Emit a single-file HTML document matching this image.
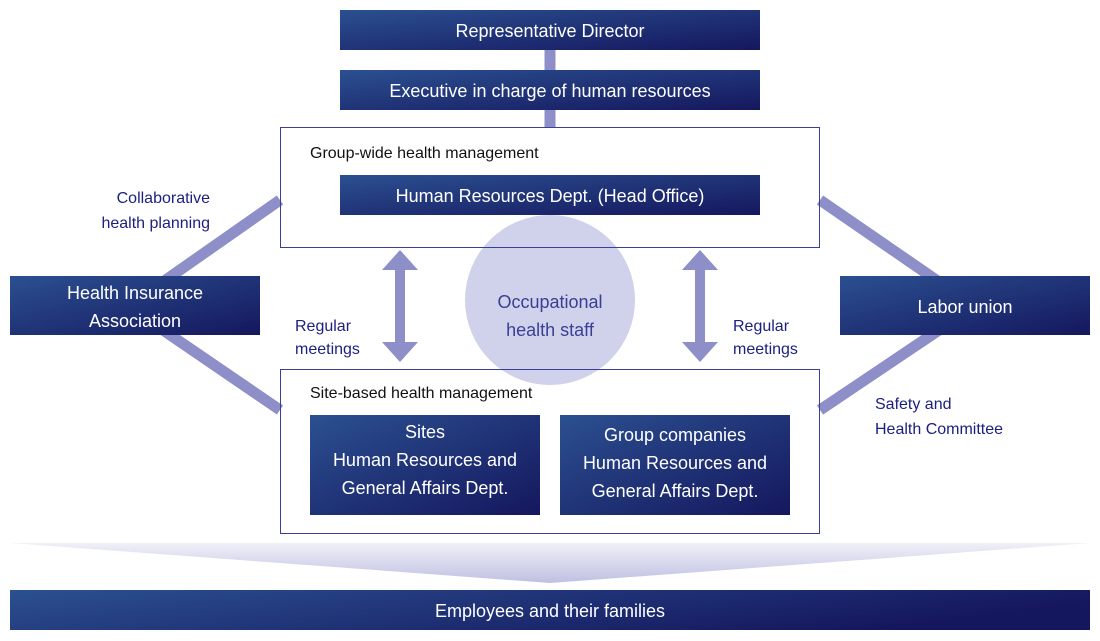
<!DOCTYPE html>
<html><head><meta charset="utf-8"><style>
html,body{margin:0;padding:0;background:#fff}
svg{display:block}
text{font-family:"Liberation Sans",sans-serif}
</style></head><body>
<svg width="1100" height="641" viewBox="0 0 1100 641" xmlns="http://www.w3.org/2000/svg">
<defs>
<linearGradient id="g" x1="0" y1="0" x2="1" y2="1">
<stop offset="0" stop-color="#2b5090"/><stop offset="1" stop-color="#15175e"/>
</linearGradient>
<linearGradient id="gw" x1="0" y1="0" x2="1" y2="0.3">
<stop offset="0" stop-color="#2b5090"/><stop offset="1" stop-color="#15175e"/>
</linearGradient>
<linearGradient id="f" x1="0" y1="0" x2="0" y2="1">
<stop offset="0" stop-color="#f0f0f8"/><stop offset="1" stop-color="#bfc0e2"/>
</linearGradient>
</defs>
<g stroke="#8e8fc8" stroke-width="11">
<line x1="550" y1="50" x2="550" y2="128"/>
<line x1="160" y1="284" x2="280" y2="200"/>
<line x1="160" y1="328" x2="280" y2="410"/>
<line x1="820" y1="200" x2="942" y2="284"/>
<line x1="820" y1="410" x2="942" y2="328"/>
</g>
<circle cx="550" cy="300" r="85" fill="#d0d1ea"/>
<g fill="#8e8fc8">
<polygon points="400,250 418,270 405,270 405,342 418,342 400,362 382,342 395,342 395,270 382,270"/>
<polygon points="700,250 718,270 705,270 705,342 718,342 700,362 682,342 695,342 695,270 682,270"/>
</g>
<rect x="280.5" y="127.5" width="539" height="120" fill="none" stroke="#3a3f95"/>
<rect x="280.5" y="369.5" width="539" height="164" fill="none" stroke="#3a3f95"/>
<g fill="url(#g)">
<rect x="340" y="10" width="420" height="40"/>
<rect x="340" y="70" width="420" height="40"/>
<rect x="340" y="175" width="420" height="40"/>
<rect x="10" y="276" width="250" height="59"/>
<rect x="840" y="276" width="250" height="59"/>
<rect x="310" y="415" width="230" height="100"/>
<rect x="560" y="415" width="230" height="100"/>
<rect x="10" y="590" width="1080" height="40" fill="url(#gw)"/>
</g>
<polygon points="10,543 1090,543 550,583" fill="url(#f)"/>
<g fill="#fff" font-size="18" text-anchor="middle">
<text x="550" y="37">Representative Director</text>
<text x="550" y="97">Executive in charge of human resources</text>
<text x="550" y="202">Human Resources Dept. (Head Office)</text>
<text x="135" y="299">Health Insurance</text>
<text x="135" y="327">Association</text>
<text x="965" y="313">Labor union</text>
<text x="425" y="438">Sites</text>
<text x="425" y="466">Human Resources and</text>
<text x="425" y="494">General Affairs Dept.</text>
<text x="675" y="441">Group companies</text>
<text x="675" y="469">Human Resources and</text>
<text x="675" y="497">General Affairs Dept.</text>
<text x="550" y="617">Employees and their families</text>
</g>
<g fill="#111" font-size="16">
<text x="310" y="158">Group-wide health management</text>
<text x="310" y="398">Site-based health management</text>
</g>
<g fill="#1e2080" font-size="16">
<text x="210" y="203" text-anchor="end">Collaborative</text>
<text x="210" y="228" text-anchor="end">health planning</text>
<text x="295" y="331">Regular</text>
<text x="295" y="354">meetings</text>
<text x="733" y="331">Regular</text>
<text x="733" y="354">meetings</text>
<text x="875" y="409">Safety and</text>
<text x="875" y="434">Health Committee</text>
</g>
<g fill="#3a3f95" font-size="18" text-anchor="middle">
<text x="550" y="308">Occupational</text>
<text x="550" y="336">health staff</text>
</g>
</svg>
</body></html>
